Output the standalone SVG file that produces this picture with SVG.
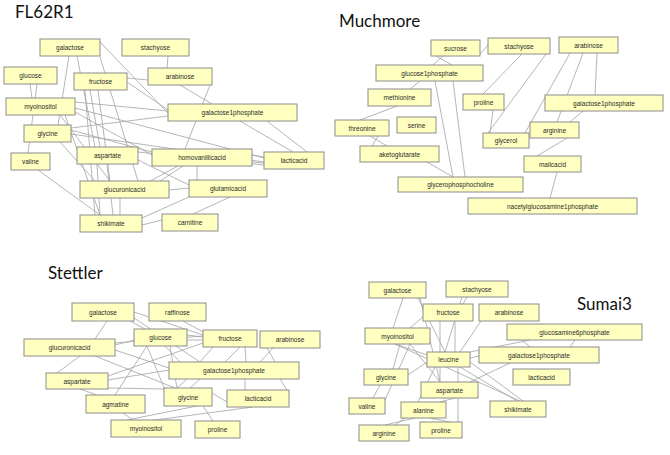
<svg xmlns="http://www.w3.org/2000/svg" width="670" height="455" viewBox="0 0 670 455">
<style>
.n rect{fill:#FFFFC0;stroke:#8c8c8c;stroke-width:1}
.n text{font-family:"Liberation Sans",Arial,sans-serif;font-size:6.5px;fill:#2a2a2a;text-anchor:middle;dominant-baseline:central}
.e line{stroke:#a3a3a3;stroke-width:0.8}
.t{font-family:Lato,"Open Sans",sans-serif;font-size:17px;fill:#111}
</style>
<rect width="670" height="455" fill="#fff"/>
<text class="t" x="15" y="18">FL62R1</text>
<text class="t" x="339" y="27">Muchmore</text>
<text class="t" x="48" y="279">Stettler</text>
<text class="t" x="577" y="310">Sumai3</text>
<g class="e" id="connectors">
<!-- FL62R1 -->
<line x1="168" y1="56" x2="167" y2="68"/>
<line x1="127" y1="78" x2="148" y2="80"/>
<line x1="180" y1="85" x2="212" y2="104"/>
<line x1="210" y1="85" x2="185" y2="149"/>
<line x1="69" y1="56" x2="58" y2="125"/>
<line x1="77" y1="56" x2="95" y2="147"/>
<line x1="100" y1="57" x2="138" y2="181"/>
<line x1="100" y1="42" x2="168" y2="113"/>
<line x1="30" y1="84" x2="32" y2="98"/>
<line x1="37" y1="84" x2="28" y2="153"/>
<line x1="127" y1="82" x2="168" y2="110"/>
<line x1="90" y1="90" x2="100" y2="147"/>
<line x1="98" y1="90" x2="110" y2="181"/>
<line x1="85" y1="90" x2="95" y2="215"/>
<line x1="75" y1="102" x2="168" y2="111"/>
<line x1="75" y1="108" x2="264" y2="158"/>
<line x1="75" y1="112" x2="152" y2="155"/>
<line x1="65" y1="115" x2="100" y2="215"/>
<line x1="60" y1="115" x2="110" y2="181"/>
<line x1="71" y1="130" x2="152" y2="152"/>
<line x1="71" y1="134" x2="264" y2="162"/>
<line x1="60" y1="142" x2="95" y2="181"/>
<line x1="71" y1="128" x2="168" y2="116"/>
<line x1="38" y1="170" x2="100" y2="215"/>
<line x1="97" y1="164" x2="100" y2="215"/>
<line x1="107" y1="164" x2="113" y2="215"/>
<line x1="138" y1="160" x2="189" y2="185"/>
<line x1="138" y1="152" x2="264" y2="165"/>
<line x1="252" y1="155" x2="264" y2="157"/>
<line x1="252" y1="162" x2="264" y2="163"/>
<line x1="197" y1="166" x2="197" y2="180"/>
<line x1="178" y1="166" x2="150" y2="181"/>
<line x1="183" y1="166" x2="160" y2="181"/>
<line x1="189" y1="188" x2="169" y2="190"/>
<line x1="189" y1="197" x2="142" y2="218"/>
<line x1="230" y1="197" x2="193" y2="214"/>
<line x1="162" y1="220" x2="142" y2="225"/>
<line x1="120" y1="198" x2="120" y2="215"/>
<line x1="240" y1="121" x2="293" y2="152"/>
<line x1="267" y1="121" x2="307" y2="152"/>
<!-- Muchmore -->
<line x1="480" y1="54" x2="488" y2="45"/>
<line x1="443" y1="56" x2="433" y2="65"/>
<line x1="436" y1="56" x2="452" y2="65"/>
<line x1="420" y1="81" x2="410" y2="89"/>
<line x1="435" y1="81" x2="453" y2="177"/>
<line x1="453" y1="81" x2="465" y2="177"/>
<line x1="397" y1="106" x2="360" y2="120"/>
<line x1="370" y1="136" x2="387" y2="146"/>
<line x1="378" y1="136" x2="372" y2="146"/>
<line x1="427" y1="162" x2="453" y2="177"/>
<line x1="522" y1="54" x2="483" y2="94"/>
<line x1="546" y1="54" x2="488" y2="133"/>
<line x1="570" y1="53" x2="525" y2="133"/>
<line x1="583" y1="53" x2="557" y2="122"/>
<line x1="597" y1="53" x2="595" y2="95"/>
<line x1="583" y1="111" x2="570" y2="122"/>
<line x1="567" y1="138" x2="537" y2="156"/>
<line x1="557" y1="172" x2="550" y2="198"/>
<line x1="493" y1="110" x2="490" y2="133"/>
<!-- Stettler -->
<line x1="107" y1="321" x2="95" y2="339"/>
<line x1="130" y1="321" x2="145" y2="329"/>
<line x1="134" y1="312" x2="203" y2="335"/>
<line x1="134" y1="318" x2="200" y2="362"/>
<line x1="183" y1="321" x2="205" y2="333"/>
<line x1="187" y1="335" x2="203" y2="337"/>
<line x1="187" y1="340" x2="203" y2="340"/>
<line x1="115" y1="345" x2="134" y2="340"/>
<line x1="115" y1="343" x2="203" y2="336"/>
<line x1="95" y1="356" x2="175" y2="388"/>
<line x1="80" y1="356" x2="57" y2="373"/>
<line x1="115" y1="350" x2="169" y2="368"/>
<line x1="108" y1="376" x2="203" y2="343"/>
<line x1="108" y1="380" x2="169" y2="370"/>
<line x1="80" y1="389" x2="97" y2="395"/>
<line x1="115" y1="395" x2="147" y2="346"/>
<line x1="123" y1="413" x2="133" y2="420"/>
<line x1="108" y1="388" x2="165" y2="389"/>
<line x1="147" y1="346" x2="165" y2="390"/>
<line x1="170" y1="346" x2="177" y2="388"/>
<line x1="187" y1="379" x2="177" y2="388"/>
<line x1="200" y1="379" x2="190" y2="388"/>
<line x1="197" y1="406" x2="127" y2="420"/>
<line x1="203" y1="406" x2="213" y2="421"/>
<line x1="212" y1="393" x2="227" y2="402"/>
<line x1="253" y1="407" x2="140" y2="422"/>
<line x1="245" y1="379" x2="245" y2="390"/>
<line x1="280" y1="379" x2="287" y2="390"/>
<line x1="273" y1="348" x2="260" y2="362"/>
<line x1="267" y1="348" x2="275" y2="362"/>
<line x1="213" y1="347" x2="200" y2="362"/>
<line x1="240" y1="347" x2="225" y2="362"/>
<line x1="245" y1="347" x2="246" y2="362"/>
<line x1="165" y1="346" x2="180" y2="362"/>
<!-- Sumai3 -->
<line x1="403" y1="298" x2="393" y2="328"/>
<line x1="418" y1="298" x2="445" y2="352"/>
<line x1="420" y1="298" x2="440" y2="382"/>
<line x1="467" y1="297" x2="463" y2="304"/>
<line x1="462" y1="297" x2="445" y2="352"/>
<line x1="440" y1="321" x2="440" y2="352"/>
<line x1="455" y1="321" x2="455" y2="352"/>
<line x1="425" y1="315" x2="410" y2="328"/>
<line x1="481" y1="321" x2="460" y2="352"/>
<line x1="395" y1="344" x2="430" y2="356"/>
<line x1="395" y1="344" x2="520" y2="401"/>
<line x1="410" y1="344" x2="440" y2="382"/>
<line x1="410" y1="344" x2="385" y2="400"/>
<line x1="400" y1="344" x2="393" y2="369"/>
<line x1="408" y1="375" x2="427" y2="362"/>
<line x1="380" y1="385" x2="373" y2="398"/>
<line x1="470" y1="358" x2="479" y2="356"/>
<line x1="460" y1="367" x2="517" y2="401"/>
<line x1="470" y1="362" x2="523" y2="401"/>
<line x1="440" y1="367" x2="440" y2="382"/>
<line x1="435" y1="367" x2="418" y2="402"/>
<line x1="458" y1="367" x2="458" y2="422"/>
<line x1="470" y1="352" x2="530" y2="340"/>
<line x1="510" y1="363" x2="470" y2="382"/>
<line x1="530" y1="347" x2="522" y2="340"/>
<line x1="570" y1="347" x2="575" y2="340"/>
<line x1="455" y1="398" x2="440" y2="402"/>
<line x1="405" y1="418" x2="395" y2="425"/>
<line x1="415" y1="418" x2="385" y2="425"/>
<line x1="430" y1="418" x2="450" y2="422"/>
</g>
<!-- FL62R1 nodes -->
<g class="n" id="f-galactose"><rect x="40" y="39" width="60" height="17"/><text x="70" y="47.5">galactose</text></g>
<g class="n" id="f-stachyose"><rect x="122" y="39" width="67" height="17"/><text x="155.5" y="47.5">stachyose</text></g>
<g class="n" id="f-glucose"><rect x="4" y="67" width="53" height="17"/><text x="30.5" y="75.5">glucose</text></g>
<g class="n" id="f-fructose"><rect x="74" y="73" width="53" height="17"/><text x="100.5" y="81.5">fructose</text></g>
<g class="n" id="f-arabinose"><rect x="148" y="68" width="64" height="17"/><text x="180" y="76.5">arabinose</text></g>
<g class="n" id="f-myoinositol"><rect x="6" y="98" width="69" height="17"/><text x="40.5" y="106.5">myoinositol</text></g>
<g class="n" id="f-galactose1phosphate"><rect x="168" y="104" width="129" height="17"/><text x="232.5" y="112.5">galactose1phosphate</text></g>
<g class="n" id="f-glycine"><rect x="24" y="125" width="47" height="17"/><text x="47.5" y="133.5">glycine</text></g>
<g class="n" id="f-valine"><rect x="11" y="153" width="39" height="17"/><text x="30.5" y="161.5">valine</text></g>
<g class="n" id="f-aspartate"><rect x="77" y="147" width="61" height="17"/><text x="107.5" y="155.5">aspartate</text></g>
<g class="n" id="f-homovanillicacid"><rect x="152" y="149" width="100" height="17"/><text x="202" y="157.5">homovanillicacid</text></g>
<g class="n" id="f-lacticacid"><rect x="264" y="152" width="60" height="17"/><text x="294" y="160.5">lacticacid</text></g>
<g class="n" id="f-glucuronicacid"><rect x="80" y="181" width="89" height="17"/><text x="124.5" y="189.5">glucuronicacid</text></g>
<g class="n" id="f-glutamicacid"><rect x="189" y="180" width="78" height="17"/><text x="228" y="188.5">glutamicacid</text></g>
<g class="n" id="f-shikimate"><rect x="80" y="215" width="62" height="17"/><text x="111" y="223.5">shikimate</text></g>
<g class="n" id="f-carnitine"><rect x="162" y="214" width="56" height="17"/><text x="190" y="222.5">carnitine</text></g>
<!-- Muchmore nodes -->
<g class="n" id="m-sucrose"><rect x="431" y="40" width="49" height="16"/><text x="455.5" y="48">sucrose</text></g>
<g class="n" id="m-stachyose"><rect x="488" y="38" width="62" height="16"/><text x="519" y="46">stachyose</text></g>
<g class="n" id="m-arabinose"><rect x="559" y="37" width="59" height="16"/><text x="588.5" y="45">arabinose</text></g>
<g class="n" id="m-glucose1phosphate"><rect x="376" y="65" width="107" height="16"/><text x="429.5" y="73">glucose1phosphate</text></g>
<g class="n" id="m-methionine"><rect x="368" y="89" width="63" height="17"/><text x="399.5" y="97.5">methionine</text></g>
<g class="n" id="m-proline"><rect x="463" y="94" width="41" height="16"/><text x="483.5" y="102">proline</text></g>
<g class="n" id="m-galactose1phosphate"><rect x="545" y="95" width="118" height="16"/><text x="604" y="103">galactose1phosphate</text></g>
<g class="n" id="m-threonine"><rect x="335" y="120" width="54" height="16"/><text x="362" y="128">threonine</text></g>
<g class="n" id="m-serine"><rect x="397" y="117" width="39" height="16"/><text x="416.5" y="125">serine</text></g>
<g class="n" id="m-glycerol"><rect x="483" y="133" width="46" height="15"/><text x="506" y="140.5">glycerol</text></g>
<g class="n" id="m-arginine"><rect x="530" y="122" width="49" height="16"/><text x="554.5" y="130">arginine</text></g>
<g class="n" id="m-aketoglutarate"><rect x="360" y="146" width="79" height="16"/><text x="399.5" y="154">aketoglutarate</text></g>
<g class="n" id="m-malicacid"><rect x="524" y="156" width="57" height="16"/><text x="552.5" y="164">malicacid</text></g>
<g class="n" id="m-glycerophosphocholine"><rect x="398" y="177" width="125" height="15"/><text x="460.5" y="184.5">glycerophosphocholine</text></g>
<g class="n" id="m-nacetylglucosamine1phosphate"><rect x="468" y="198" width="169" height="16"/><text x="552.5" y="206">nacetylglucosamine1phosphate</text></g>
<!-- Stettler nodes -->
<g class="n" id="s-galactose"><rect x="72" y="303" width="62" height="18"/><text x="103" y="312">galactose</text></g>
<g class="n" id="s-raffinose"><rect x="149" y="303" width="57" height="18"/><text x="177.5" y="312">raffinose</text></g>
<g class="n" id="s-glucose"><rect x="134" y="329" width="53" height="17"/><text x="160.5" y="337.5">glucose</text></g>
<g class="n" id="s-fructose"><rect x="203" y="330" width="54" height="17"/><text x="230" y="338.5">fructose</text></g>
<g class="n" id="s-arabinose"><rect x="260" y="331" width="60" height="17"/><text x="290" y="339.5">arabinose</text></g>
<g class="n" id="s-glucuronicacid"><rect x="24" y="339" width="91" height="17"/><text x="69.5" y="347.5">glucuronicacid</text></g>
<g class="n" id="s-galactose1phosphate"><rect x="169" y="362" width="130" height="17"/><text x="234" y="370.5">galactose1phosphate</text></g>
<g class="n" id="s-aspartate"><rect x="46" y="373" width="62" height="16"/><text x="77" y="381">aspartate</text></g>
<g class="n" id="s-agmatine"><rect x="86" y="395" width="59" height="18"/><text x="115.5" y="404">agmatine</text></g>
<g class="n" id="s-glycine"><rect x="164" y="388" width="48" height="18"/><text x="188" y="397">glycine</text></g>
<g class="n" id="s-lacticacid"><rect x="227" y="390" width="62" height="17"/><text x="258" y="398.5">lacticacid</text></g>
<g class="n" id="s-myoinositol"><rect x="111" y="420" width="70" height="17"/><text x="146" y="428.5">myoinositol</text></g>
<g class="n" id="s-proline"><rect x="195" y="421" width="45" height="17"/><text x="217.5" y="429.5">proline</text></g>
<!-- Sumai3 nodes -->
<g class="n" id="u-galactose"><rect x="369" y="282" width="57" height="16"/><text x="397.5" y="290">galactose</text></g>
<g class="n" id="u-stachyose"><rect x="446" y="281" width="62" height="16"/><text x="477" y="289">stachyose</text></g>
<g class="n" id="u-fructose"><rect x="423" y="304" width="50" height="17"/><text x="448" y="312.5">fructose</text></g>
<g class="n" id="u-arabinose"><rect x="479" y="304" width="60" height="17"/><text x="509" y="312.5">arabinose</text></g>
<g class="n" id="u-myoinositol"><rect x="365" y="328" width="65" height="16"/><text x="397.5" y="336">myoinositol</text></g>
<g class="n" id="u-glucosamine6phosphate"><rect x="507" y="324" width="135" height="16"/><text x="574.5" y="332">glucosamine6phosphate</text></g>
<g class="n" id="u-leucine"><rect x="427" y="352" width="43" height="15"/><text x="448.5" y="359.5">leucine</text></g>
<g class="n" id="u-galactose1phosphate"><rect x="479" y="347" width="120" height="16"/><text x="539" y="355">galactose1phosphate</text></g>
<g class="n" id="u-glycine"><rect x="364" y="369" width="44" height="16"/><text x="386" y="377">glycine</text></g>
<g class="n" id="u-lacticacid"><rect x="513" y="369" width="57" height="16"/><text x="541.5" y="377">lacticacid</text></g>
<g class="n" id="u-aspartate"><rect x="421" y="382" width="57" height="16"/><text x="449.5" y="390">aspartate</text></g>
<g class="n" id="u-valine"><rect x="349" y="398" width="36" height="16"/><text x="367" y="406">valine</text></g>
<g class="n" id="u-alanine"><rect x="401" y="402" width="45" height="16"/><text x="423.5" y="410">alanine</text></g>
<g class="n" id="u-shikimate"><rect x="490" y="401" width="56" height="16"/><text x="518" y="409">shikimate</text></g>
<g class="n" id="u-arginine"><rect x="359" y="425" width="50" height="16"/><text x="384" y="433">arginine</text></g>
<g class="n" id="u-proline"><rect x="420" y="422" width="42" height="16"/><text x="441" y="430">proline</text></g>
</svg>
